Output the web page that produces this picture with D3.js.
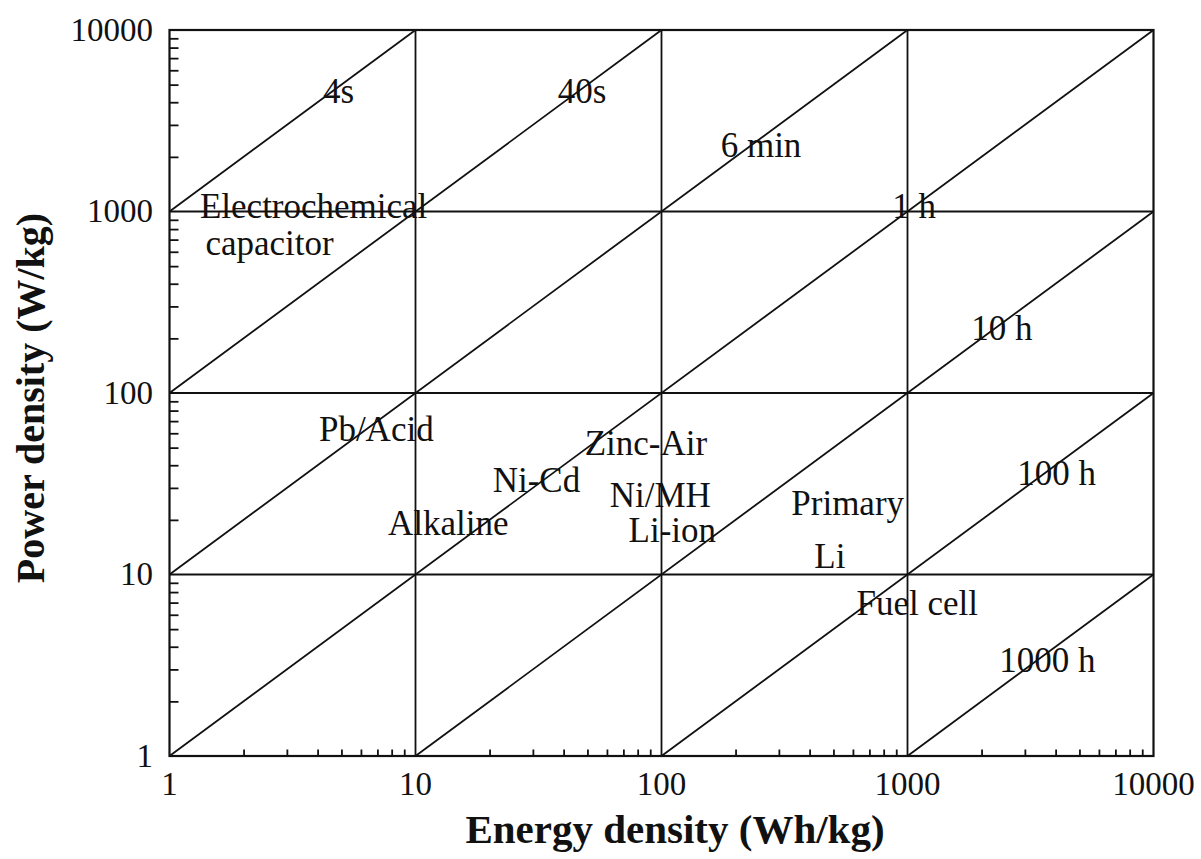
<!DOCTYPE html>
<html>
<head>
<meta charset="utf-8">
<script src="https://cdn.jsdelivr.net/npm/d3@7/dist/d3.min.js"></script>
<style>
  html, body { margin: 0; padding: 0; background: #fff; }
  svg { display: block; }
  text { font-family: "Liberation Serif", "Times New Roman", "DejaVu Serif", serif; fill: #111; }
</style>
</head>
<body>
<svg id="chart" width="1201" height="859"></svg>
<script>
// ---- data ----
const majorTicks = [1, 10, 100, 1000, 10000];
const majorTickLabels = ["1", "10", "100", "1000", "10000"];
// discharge-time lines (hours): E / P = t
const durationHours = [0.001, 0.01, 0.1, 1, 10, 100, 1000];
// annotation labels: text, energy (Wh/kg), power (W/kg) of the label's left baseline
const labelTexts  = ["4s", "40s", "6 min", "Electrochemical", "capacitor", "1 h", "10 h",
                     "Pb/Acid", "Zinc-Air", "Ni-Cd", "Ni/MH", "Alkaline", "Li-ion",
                     "100 h", "Primary", "Li", "Fuel cell", "1000 h"];
const labelEnergy = [4.21, 37.9, 174, 1.33, 1.40, 867, 1815,
                     4.05, 48.7, 20.6, 61.6, 7.73, 73.5,
                     2791, 337, 418, 620, 2360];
const labelPower  = [3945, 3945, 1988, 917, 574, 917, 195,
                     54.3, 45.4, 28.4, 23.5, 16.5, 15.1,
                     31.1, 21.2, 10.8, 5.98, 2.90];
const xTitle = "Energy density (Wh/kg)";
const yTitle = "Power density (W/kg)";

// ---- layout ----
const pLeft = 169.5, pRight = 1153.5, pTop = 30, pBottom = 756;
const svg = d3.select("#chart");
const x = d3.scaleLog().domain([1, 10000]).range([pLeft, pRight]);
const y = d3.scaleLog().domain([1, 10000]).range([pBottom, pTop]);
const ink = "#111";
const lw = 1.8;

// minor ticks (2..9 within each decade)
const minorTicks = [];
for (let d = 1; d < 10000; d *= 10) for (let k = 2; k <= 9; k++) minorTicks.push(d * k);

const gx = svg.append("g").attr("transform", `translate(0,${pBottom})`)
  .call(d3.axisBottom(x).tickValues(minorTicks).tickSizeInner(-6.5).tickSizeOuter(0).tickFormat(""));
gx.select(".domain").remove();
gx.selectAll(".tick line").attr("stroke", ink).attr("stroke-width", lw);

const gy = svg.append("g").attr("transform", `translate(${pLeft},0)`)
  .call(d3.axisLeft(y).tickValues(minorTicks).tickSizeInner(-9).tickSizeOuter(0).tickFormat(""));
gy.select(".domain").remove();
gy.selectAll(".tick line").attr("stroke", ink).attr("stroke-width", lw);

// grid at decades
svg.append("g").selectAll("line").data(majorTicks.slice(1, -1)).join("line")
  .attr("x1", d => x(d)).attr("x2", d => x(d)).attr("y1", pTop).attr("y2", pBottom)
  .attr("stroke", ink).attr("stroke-width", lw);
svg.append("g").selectAll("line").data(majorTicks.slice(1, -1)).join("line")
  .attr("y1", d => y(d)).attr("y2", d => y(d)).attr("x1", pLeft).attr("x2", pRight)
  .attr("stroke", ink).attr("stroke-width", lw);

// diagonal constant-time lines, clipped to the domain
const [dMin, dMax] = x.domain();
const line = d3.line().x(d => x(d[0])).y(d => y(d[1]));
svg.append("g").selectAll("path").data(durationHours).join("path")
  .attr("d", t => {
    const e0 = Math.max(dMin, dMin * t), e1 = Math.min(dMax, dMax * t);
    return line([[e0, e0 / t], [e1, e1 / t]]);
  })
  .attr("fill", "none").attr("stroke", ink).attr("stroke-width", lw);

// frame
svg.append("rect").attr("x", pLeft).attr("y", pTop)
  .attr("width", pRight - pLeft).attr("height", pBottom - pTop)
  .attr("fill", "none").attr("stroke", ink).attr("stroke-width", lw + 0.4);

// tick labels
svg.append("g").selectAll("text").data(majorTicks).join("text")
  .attr("x", d => x(d)).attr("y", 795).attr("text-anchor", "middle")
  .attr("font-size", 33).text((d, i) => majorTickLabels[i]);
svg.append("g").selectAll("text").data(majorTicks).join("text")
  .attr("x", 153).attr("y", d => y(d) + 10.5).attr("text-anchor", "end")
  .attr("font-size", 33).text((d, i) => majorTickLabels[i]);

// annotations
svg.append("g").selectAll("text").data(labelTexts).join("text")
  .attr("x", (d, i) => x(labelEnergy[i])).attr("y", (d, i) => y(labelPower[i]))
  .attr("font-size", 35).text(d => d);

// axis titles
svg.append("text").attr("x", 675).attr("y", 843).attr("text-anchor", "middle")
  .attr("font-size", 41).attr("font-weight", "bold").text(xTitle);
svg.append("text").attr("transform", "translate(44,398) rotate(-90)")
  .attr("text-anchor", "middle").attr("font-size", 40).attr("font-weight", "bold").text(yTitle);
</script>
</body>
</html>
